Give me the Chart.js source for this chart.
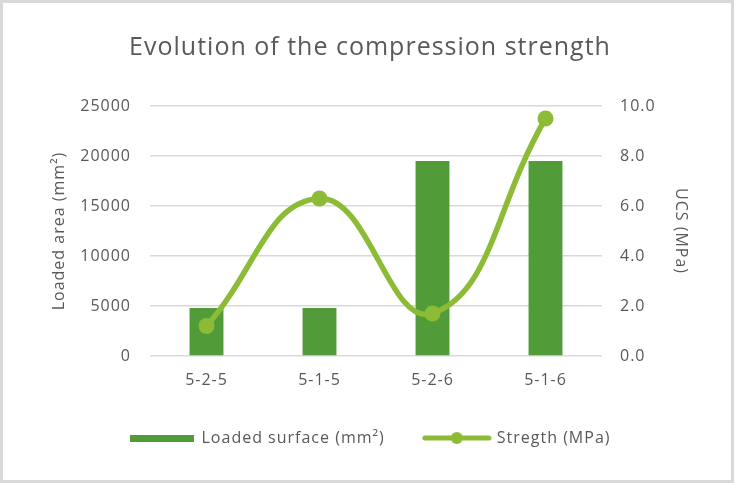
<!DOCTYPE html>
<html>
<head>
<meta charset="utf-8">
<script src="https://cdn.jsdelivr.net/npm/chart.js@4"></script>
<style>
  html, body { margin: 0; padding: 0; background: #fff; }
  #wrap {
    position: absolute; left: 0; top: 0;
    width: 734px; height: 483px;
    box-sizing: border-box;
    border: 3px solid #d9d9d9;
    background: #fff;
  }
  #chart { display: block; }
</style>
</head>
<body>
<div id="wrap"><canvas id="chart" width="728" height="477"></canvas></div>
<script>
const categories = ['5-2-5', '5-1-5', '5-2-6', '5-1-6'];
const loadedSurface = [4800, 4800, 19500, 19500];
const strength = [1.2, 6.3, 1.7, 9.5];
const seriesNames = ['Loaded surface (mm²)', 'Stregth (MPa)'];
const areaTicks = [0, 5000, 10000, 15000, 20000, 25000];
const ucsTicks = [0, 2, 4, 6, 8, 10];

const barColor = '#519c38';
const lineColor = '#8cbb35';
const textColor = '#595959';
const fontFamily = '"Open Sans", "Noto Sans", sans-serif';

// legend swatches: a flat bar and a line with its marker
const barSwatch = document.createElement('canvas');
barSwatch.width = 64; barSwatch.height = 7;
let g = barSwatch.getContext('2d');
g.fillStyle = barColor;
g.fillRect(0, 0, 64, 7);

const lineSwatch = document.createElement('canvas');
lineSwatch.width = 72; lineSwatch.height = 14;
g = lineSwatch.getContext('2d');
g.strokeStyle = lineColor;
g.lineWidth = 5;
g.lineCap = 'round';
g.beginPath(); g.moveTo(4, 7); g.lineTo(68, 7); g.stroke();
g.fillStyle = lineColor;
g.beginPath(); g.arc(36, 7, 6, 0, Math.PI * 2); g.fill();

// the source text is set a little wider than Open Sans
const spacing = {
    id: 'spacing',
    beforeInit(chart) { chart.ctx.letterSpacing = '1px'; },
    beforeLayout(chart) { chart.ctx.letterSpacing = '1px'; },
    beforeDraw(chart) { chart.ctx.letterSpacing = '1px'; }
};

new Chart(document.getElementById('chart'), {
    type: 'bar',
    plugins: [spacing],
    data: {
        labels: categories,
        datasets: [{
            type: 'line',
            label: seriesNames[1],
            data: strength,
            yAxisID: 'y1',
            borderColor: lineColor,
            backgroundColor: lineColor,
            borderWidth: 5.5,
            pointRadius: 8,
            pointBackgroundColor: lineColor,
            pointBorderWidth: 0,
            tension: 0.45,
            order: 0
        }, {
            label: seriesNames[0],
            data: loadedSurface,
            yAxisID: 'y',
            backgroundColor: barColor,
            categoryPercentage: 1,
            barPercentage: 0.3,
            order: 1
        }]
    },
    options: {
        responsive: false,
        animation: false,
        layout: {
            padding: { left: 47, right: 41, top: 0, bottom: 24 }
        },
        plugins: {
            title: {
                display: true,
                text: 'Evolution of the compression strength',
                color: textColor,
                font: { family: fontFamily, size: 25, weight: 'normal' },
                padding: { top: 30, bottom: 43 }
            },
            legend: {
                position: 'bottom',
                labels: {
                    color: textColor,
                    font: { family: fontFamily, size: 16 },
                    usePointStyle: true,
                    pointStyleWidth: 64,
                    boxHeight: 14,
                    padding: 40,
                    generateLabels: function () {
                        return [
                            { text: seriesNames[0], pointStyle: barSwatch, fontColor: textColor, datasetIndex: 1, lineWidth: 0 },
                            { text: seriesNames[1], pointStyle: lineSwatch, fontColor: textColor, datasetIndex: 0, lineWidth: 0 }
                        ];
                    }
                }
            },
            tooltip: { enabled: false }
        },
        scales: {
            x: {
                afterFit: function (scale) { scale.height = 34; },
                grid: { display: false, drawTicks: false },
                border: { display: false },
                ticks: {
                    color: textColor,
                    font: { family: fontFamily, size: 16 },
                    padding: 15
                }
            },
            y: {
                position: 'left',
                min: 0,
                max: 25000,
                afterBuildTicks: function (scale) {
                    scale.ticks = areaTicks.map(v => ({ value: v }));
                },
                afterFit: function (scale) { scale.width = 100; },
                grid: { color: '#d9d9d9', lineWidth: 1.5, drawTicks: false },
                border: { display: false },
                ticks: {
                    color: textColor,
                    font: { family: fontFamily, size: 16 },
                    padding: 19,
                    callback: v => String(v)
                },
                title: {
                    display: true,
                    text: 'Loaded area (mm²)',
                    color: textColor,
                    font: { family: fontFamily, size: 16 },
                    padding: 0
                }
            },
            y1: {
                position: 'right',
                min: 0,
                max: 10,
                afterBuildTicks: function (scale) {
                    scale.ticks = ucsTicks.map(v => ({ value: v }));
                },
                afterFit: function (scale) { scale.width = 88; },
                grid: { display: false, drawTicks: false },
                border: { display: false },
                ticks: {
                    color: textColor,
                    font: { family: fontFamily, size: 16 },
                    padding: 18,
                    callback: v => v.toFixed(1)
                },
                title: {
                    display: true,
                    text: 'UCS (MPa)',
                    color: textColor,
                    font: { family: fontFamily, size: 16 },
                    padding: 0
                }
            }
        }
    }
});
</script>
</body>
</html>
